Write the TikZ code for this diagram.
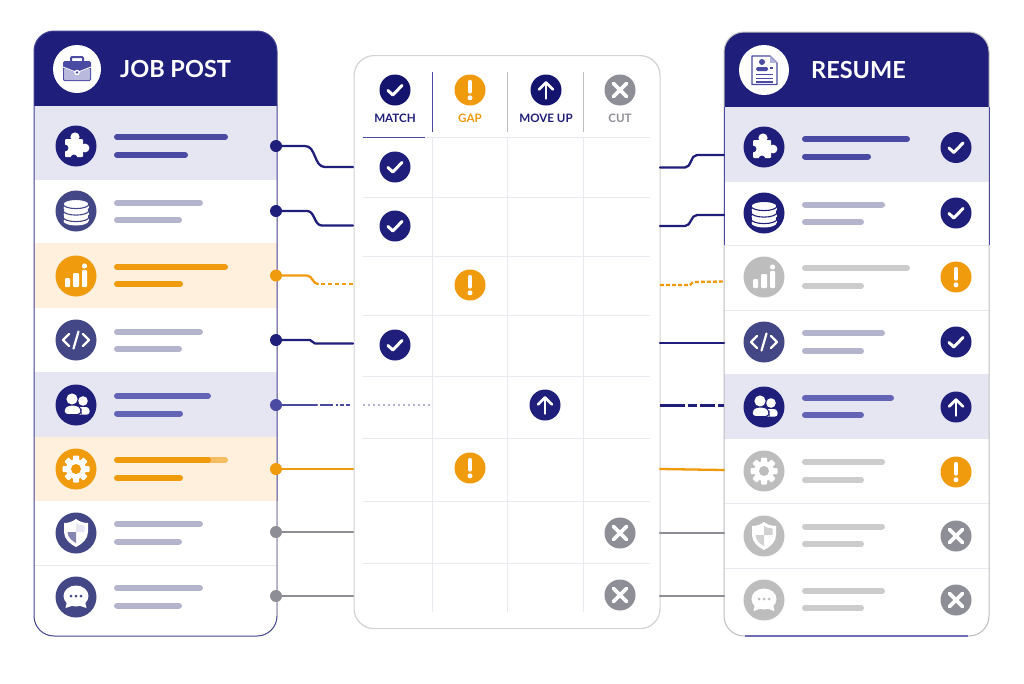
\documentclass[tikz,border=0pt]{standalone}
\usepackage{fontspec}
\setmainfont{Lato}
\definecolor{navy}{HTML}{1F1E7A}
\definecolor{navyd}{HTML}{14146E}
\definecolor{slate}{HTML}{444785}
\definecolor{lav}{HTML}{E6E6F3}
\definecolor{cream}{HTML}{FEF0DC}
\definecolor{amber}{HTML}{F09A0E}
\definecolor{mute}{HTML}{8E8E96}
\definecolor{pale}{HTML}{BDBDBD}
\definecolor{barP}{HTML}{4A4AA2}
\definecolor{barQ}{HTML}{6464B6}
\definecolor{barS}{HTML}{B4B4CC}
\definecolor{barG}{HTML}{CCCCCC}
\definecolor{rule}{HTML}{E9E9EF}
\tikzset{
  x=1pt,y=-1pt,
  conn/.style={line width=2.3,line cap=round,line join=round},
  dotn/.style={circle,inner sep=0,minimum size=12pt},
  collabel/.style={font=\bfseries\fontsize{11.6}{13}\selectfont,inner sep=0},
  title/.style={font=\bfseries\fontsize{23.5}{26}\selectfont,text=white,inner sep=0,anchor=west},
  tick/.style={white,line width=3,line cap=round,line join=round},
  pics/puzzleicon/.style n args={2}{code={
    \fill[#2] (0,0) circle[radius=20.5];
    \fill[#1,rounded corners=1] (-11,-7) rectangle (7,11);
    \fill[#1] (-1,-9) circle[radius=4.6];
    \fill[#1] (9,2) circle[radius=4.4];
    \fill[#2] (-11,2) circle[radius=3.4];
    \fill[#2] (-2,12) circle[radius=3.4];
  }},
  pics/dbicon/.style n args={2}{code={
    \fill[#2] (0,0) circle[radius=20.5];
    \foreach \yy in {7,0.5,-6}{
      \fill[#1] (-12.5,\yy-1) rectangle (12.5,\yy+3);
      \fill[#1] (0,\yy+3) ellipse[x radius=12.5,y radius=4.5];
      \draw[#2,line width=1.1,fill=#1] (0,\yy-1) ellipse[x radius=13,y radius=4.6];
    }
  }},
  pics/charticon/.style n args={2}{code={
    \fill[#2] (0,0) circle[radius=20.5];
    \fill[#1,rounded corners=1] (-11,2) rectangle (-6,11);
    \fill[#1,rounded corners=1] (-3,-3) rectangle (3,11);
    \fill[#1,rounded corners=1] (6,-6) rectangle (11,11);
    \fill[#1] (8.5,-10) circle[radius=2.6];
  }},
  pics/codeicon/.style n args={2}{code={
    \fill[#2] (0,0) circle[radius=20.5];
    \draw[#1,line width=2.4,line cap=round,line join=round] (-7,-6) -- (-13,0) -- (-7,6);
    \draw[#1,line width=2.4,line cap=round,line join=round] (7,-6) -- (13,0) -- (7,6);
    \draw[#1,line width=2.2,line cap=round] (2.5,-8.5) -- (-2.5,8.5);
  }},
  pics/peopleicon/.style n args={2}{code={
    \fill[#2] (0,0) circle[radius=20.5];
    \fill[#1] (7,-4) circle[radius=4.8];
    \fill[#1,rounded corners=3] (1,2) -- (13,2) -- (14,9.5) -- (1,9.5) -- cycle;
    \fill[#1] (-4,-6) circle[radius=5.6];
    \draw[#2,line width=1,fill=#1,rounded corners=3.5] (-12,9.5) -- (-12,3) -- (-8,0) -- (1,0) -- (5,3) -- (5,9.5) -- cycle;
  }},
  pics/gearicon/.style n args={2}{code={
    \fill[#2] (0,0) circle[radius=20.5];
    \foreach \a in {0,45,...,315}{
      \fill[#1,rotate=\a,rounded corners=0.8] (-3,-13.5) rectangle (3,0);
    }
    \fill[#1] (0,0) circle[radius=10];
    \fill[#2] (0,0) circle[radius=5];
  }},
  pics/shieldicon/.style n args={4}{code={
    \fill[#2] (0,0) circle[radius=20.5];
    \fill[#1] (0,-14) .. controls (4,-11) and (8,-10) .. (12,-10) -- (12,-1) .. controls (12,6) and (6,11) .. (0,14) .. controls (-6,11) and (-12,6) .. (-12,-1) -- (-12,-10) .. controls (-8,-10) and (-4,-11) .. (0,-14) -- cycle;
    \fill[#3] (0,-1) -- (-8.5,-1) .. controls (-8.5,4) and (-4,8) .. (0,10) -- cycle;
    \fill[#4] (0,-1) -- (8.5,-1) -- (8.5,-7.5) .. controls (5,-7.5) and (2.5,-8.5) .. (0,-10) -- cycle;
  }},
  pics/chaticon/.style n args={2}{code={
    \fill[#2] (0,0) circle[radius=20.5];
    \fill[#1] (0,-1) ellipse[x radius=12.5,y radius=10.5];
    \fill[#1] (-9,4) -- (-10.5,11) -- (-3,8.5) -- cycle;
    \fill[#1] (9,4) -- (10.5,11) -- (3,8.5) -- cycle;
    \foreach \xx in {-5,0,5}{\fill[#2] (\xx,-1) circle[radius=1.5];}
  }},
  pics/matchmark/.style={code={\fill[#1] (0,0) circle[radius=15.5];
    \draw[tick] (-7,0.5) -- (-2.2,5) -- (7,-4.5);}},
  pics/gapmark/.style={code={\fill[amber] (0,0) circle[radius=15.5];
    \draw[white,line width=4.4,line cap=round] (0,-8) -- (0,1.5);
    \fill[white] (0,7.8) circle[radius=2.5];}},
  pics/moveupmark/.style={code={\fill[#1] (0,0) circle[radius=15.5];
    \draw[white,line width=2.8,line cap=round,line join=round] (0,8.5) -- (0,-7.5);
    \draw[white,line width=2.8,line cap=round,line join=round] (-7,-0.5) -- (0,-7.5) -- (7,-0.5);}},
  pics/cutmark/.style={code={\fill[mute] (0,0) circle[radius=15.5];
    \draw[white,line width=3.8,line cap=round] (-6.5,-6.5) -- (6.5,6.5);
    \draw[white,line width=3.8,line cap=round] (-6.5,6.5) -- (6.5,-6.5);}},
}
\newcommand{\twobars}[6]{%
  \draw[#1,line width=6,line cap=round] (#2+3,#4) -- (#3-3,#4);
  \draw[#1,line width=6,line cap=round] (#2+3,#6) -- (#5-3,#6);
}
\begin{document}
\begin{tikzpicture}
\useasboundingbox (0,0) rectangle (1024,683);
\fill[white] (0,0) rectangle (1024,683);

% ---------- left panel
\begin{scope}
\clip[rounded corners=20] (34,31) rectangle (277,636);
\fill[white] (34,31) rectangle (277,636);
\fill[navy] (34,31) rectangle (277,105.5);
\fill[lav] (34,105.5) rectangle (277,180);
\fill[cream] (34,243) rectangle (277,308);
\fill[lav] (34,372) rectangle (277,437);
\fill[cream] (34,437) rectangle (277,501);
\draw[rule,line width=0.8] (34,565) -- (277,565);
\end{scope}
\draw[barP!90!black,line width=1,rounded corners=20] (277,500) -- (277,636) -- (34,636) -- (34,31) -- (277,31) -- (277,500);
\draw[mute!70,line width=1] (277,501) -- (277,616);

% ---------- right panel
\begin{scope}
\clip[rounded corners=20] (724,32) rectangle (989,636);
\fill[white] (724,32) rectangle (989,636);
\fill[navy] (724,32) rectangle (989,107);
\fill[lav] (724,107) rectangle (989,182);
\draw[rule,line width=0.8] (724,245) -- (989,245);
\draw[rule,line width=0.8] (724,310) -- (989,310);
\fill[lav] (724,374) rectangle (989,439);
\draw[rule,line width=0.8] (724,503) -- (989,503);
\draw[rule,line width=0.8] (724,568) -- (989,568);
\end{scope}
\draw[pale,line width=1,rounded corners=20] (989,300) -- (989,636) -- (724,636) -- (724,32) -- (989,32) -- (989,300);
\draw[barP,line width=1] (989,107) -- (989,245);
\draw[barP!80,line width=1.2] (745,636) -- (968,636);
\draw[barP,line width=1] (724,107) -- (724,245);

% ---------- centre panel
\node[draw=rule!90!black,line width=1.2,fill=white,rounded corners=20,minimum width=306pt,minimum height=573pt,inner sep=0,anchor=north west] (centre) at (353.5,55) {};
\foreach \yy in {137,197,256,315,376,438,501,563}{
  \draw[rule,line width=1] (363,\yy) -- (650,\yy);
}
\foreach \xx in {432.5,507,583}{
  \draw[rule,line width=1] (\xx,137) -- (\xx,612);
}
\draw[barP,line width=1] (432.5,72) -- (432.5,132);
\draw[pale,line width=1] (507,72) -- (507,132);
\draw[pale,line width=1] (583,72) -- (583,132);
\draw[barP,line width=1] (363,137) -- (425,137);

% column heads
\pic at (395,90) {matchmark=navyd};
\pic at (470,90) {gapmark};
\pic at (546,90) {moveupmark=navyd};
\pic at (620,90) {cutmark};
\node[collabel,text=navy] (hmatch) at (395,118) {MATCH};
\node[collabel,text=amber] (hgap) at (470,118) {GAP};
\node[collabel,text=navy] (hup) at (546,118) {MOVE UP};
\node[collabel,text=mute] (hcut) at (620,118) {CUT};
% grid marks
\pic at (395,167) {matchmark=navy};
\pic at (395,226) {matchmark=navy};
\pic at (470,285) {gapmark};
\pic at (395,345) {matchmark=navy};
\pic at (545,405) {moveupmark=navy};
\pic at (470,468) {gapmark};
\pic at (620,533) {cutmark};
\pic at (620,595) {cutmark};
\draw[barS,line width=1.6,dash pattern=on 2pt off 3pt] (363,405) -- (432,405);

% ---------- left contents
\node[circle,fill=white,minimum size=48pt,inner sep=0] (jobcirc) at (77,69) {};
\begin{scope}[shift={(77,69)}]
  \draw[barP,line width=2,rounded corners=1] (-6,-6) -- (-6,-12) -- (6,-12) -- (6,-6);
  \fill[barP,rounded corners=1.5] (-14,-8) rectangle (14,12);
  \fill[lav!65!barQ,rounded corners=1] (-13,-1) -- (0,4) -- (13,-1) -- (13,11) -- (-13,11) -- cycle;
  \draw[white,line width=0.9] (-14,-2) -- (0,3.5) -- (14,-2);
  \fill[white] (0,3.5) circle[radius=2.8];
  \fill[barP] (0,3.5) circle[radius=1.3];
\end{scope}
\node[title] (jobtitle) at (120,69) {JOB POST};

\pic at (76,146) {puzzleicon={white}{navy}};
\pic at (76,211) {dbicon={white}{slate}};
\pic at (76,276) {charticon={white}{amber}};
\pic at (76,340) {codeicon={white}{slate}};
\pic at (76,405) {peopleicon={white}{navy}};
\pic at (76,469) {gearicon={white}{amber}};
\pic at (76,533) {shieldicon={white}{slate}{slate!65}{lav}};
\pic at (76,597) {chaticon={white}{slate}};

\twobars{barP}{114}{228}{137}{188}{155}
\twobars{barS}{114}{203}{203}{182}{220}
\twobars{amber}{114}{228}{267}{183}{284}
\twobars{barS}{114}{203}{332}{182}{349}
\twobars{barQ}{114}{211}{396}{183}{413.5}
\draw[amber!65,line width=6,line cap=round] (205,460) -- (225,460);
\twobars{amber}{114}{211}{460}{183}{478}
\twobars{barS}{114}{203}{524}{182}{541.5}
\twobars{barS}{114}{203}{588}{182}{605.5}

% ---------- right contents
\node[circle,fill=white,minimum size=50pt,inner sep=0] (rescirc) at (764,70) {};
\begin{scope}[shift={(764,70)}]
  \draw[barP,line width=1.2,fill=white,line join=round] (-12,-14) -- (6,-14) -- (13,-7) -- (13,14.5) -- (-12,14.5) -- cycle;
  \fill[lav!60!barQ] (6,-14) -- (13,-7) -- (6,-7) -- cycle;
  \fill[barP] (-2,-8) circle[radius=3];
  \fill[barP,rounded corners=1.5] (-8,1) -- (-8,-3) -- (4,-3) -- (4,1) -- cycle;
  \draw[barP,line width=1.2] (6,-2) -- (9,-2);
  \draw[barP,line width=1.2] (-8,4.5) -- (9,4.5);
  \draw[barP,line width=1.2] (-8,8.5) -- (9,8.5);
  \draw[barP,line width=1.2] (-8,12) -- (9,12);
\end{scope}
\node[title] (restitle) at (811,70) {RESUME};

\pic at (764,147) {puzzleicon={white}{navy}};
\pic at (764,213) {dbicon={white}{navy}};
\pic at (764,277) {charticon={white}{pale}};
\pic at (764,342) {codeicon={white}{slate}};
\pic at (764,407) {peopleicon={white}{navy}};
\pic at (764,471) {gearicon={white}{pale}};
\pic at (764,536) {shieldicon={white}{pale}{pale!70}{pale!70}};
\pic at (764,600) {chaticon={white}{pale}};

\twobars{barP}{802}{910}{139}{871}{156.5}
\twobars{barS}{802}{885}{204.5}{864}{222}
\twobars{barG}{802}{910}{268}{864}{286}
\twobars{barS}{802}{885}{333}{864}{351}
\twobars{barQ}{802}{894}{398}{864}{415}
\twobars{barG}{802}{885}{462}{864}{480}
\twobars{barG}{802}{885}{526.5}{864}{544}
\twobars{barG}{802}{885}{591}{864}{608}

\pic at (956,147.5) {matchmark=navy};
\pic at (956,213) {matchmark=navy};
\pic at (956,277) {gapmark};
\pic at (956,342) {matchmark=navy};
\pic at (956,407) {moveupmark=navy};
\pic at (956,472) {gapmark};
\pic at (956,536) {cutmark};
\pic at (956,600) {cutmark};

% ---------- connector ends
\foreach \n/\yy/\cc in {1/146/navy,2/211/navy,3/275.5/amber,4/340/navy,5/405/barP,6/469/amber,7/532/mute,8/596/mute}{
  \node[dotn,fill=\cc] (dL\n) at (276,\yy) {};
}
\foreach \n/\yy in {1/167,2/225.5,3/284,4/343.5,5/405,6/469,7/532,8/596}{
  \coordinate (cL\n) at (353,\yy);
}
\foreach \n/\yy in {1/167.5,2/226,3/285,4/343,5/405.5,6/469,7/533,8/596}{
  \coordinate (cR\n) at (660,\yy);
}
\foreach \n/\yy in {1/155,2/215,3/281.5,4/343,5/405.5,6/470,7/533,8/596}{
  \coordinate (pR\n) at (724,\yy);
}

% left connectors
\draw[conn,navy] (dL1.center) -- ++(29,0) to[out=0,in=180] ++(20,21) -- (cL1);
\draw[conn,navy] (dL2.center) -- ++(31,0) to[out=0,in=180] ++(15,14.5) -- (cL2);
\draw[conn,amber] (dL3.center) -- ++(31,0) to[out=0,in=180] ++(11,8.5) coordinate (ae);
\draw[conn,amber,dash pattern=on 4pt off 3pt,line cap=butt] (ae) ++(3,0) -- (cL3);
\draw[conn,navy] (dL4.center) -- ++(34,0) -- ++(5,3.5) -- (cL4);
\draw[conn,barP] (dL5.center) -- ++(41,0) coordinate (be);
\draw[conn,barP,line cap=butt,dash pattern=on 0pt off 3pt on 13pt off 3pt on 2pt off 2pt on 4pt off 2pt on 4pt off 9pt] (be) -- (cL5);
\draw[conn,amber] (dL6.center) -- (cL6);
\draw[conn,mute] (dL7.center) -- (cL7);
\draw[conn,mute] (dL8.center) -- (cL8);

% right connectors
\draw[conn,navy] (cR1) -- ++(25,0) to[out=0,in=180] ++(12,-12.5) -- (pR1);
\draw[conn,navy] (cR2) -- ++(25,0) to[out=0,in=180] ++(12,-11) -- (pR2);
\draw[conn,amber,line cap=butt,dash pattern=on 4pt off 2pt] (cR3) -- (690,285) -- (693,282) -- (pR3);
\draw[conn,navy] (cR4) -- (pR4);
\draw[conn,navy,line cap=butt,dash pattern=on 25pt off 3pt on 9pt off 3pt on 15pt off 3pt on 6pt off 4pt] (cR5) -- (pR5);
\draw[conn,amber] (cR6) -- (pR6);
\draw[conn,mute] (cR7) -- (pR7);
\draw[conn,mute] (cR8) -- (pR8);
\end{tikzpicture}
\end{document}
